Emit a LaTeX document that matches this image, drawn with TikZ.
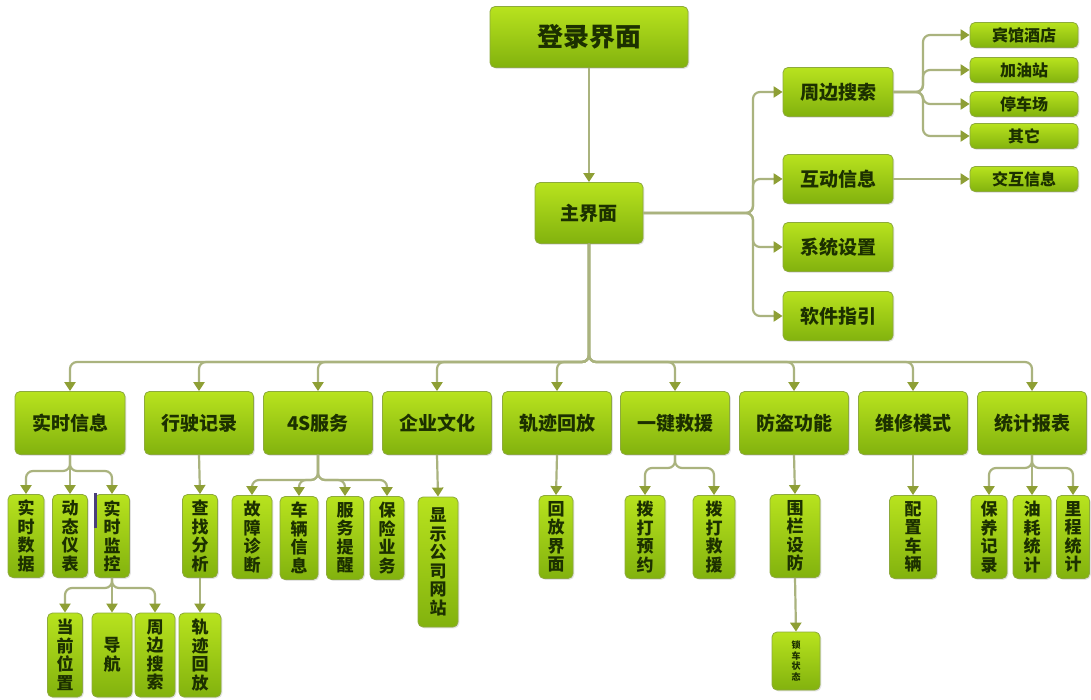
\documentclass[tikz,border=0pt]{standalone}
\usepackage{fontspec}
\newfontfamily\cjk{Noto Sans CJK SC}
\usetikzlibrary{arrows.meta,shadows}
\definecolor{linec}{HTML}{AAB37E}
\definecolor{tipc}{HTML}{8E9F35}
\definecolor{topc}{HTML}{B8E31E}
\definecolor{botc}{HTML}{82B20E}
\definecolor{bordc}{HTML}{8DAA3C}
\definecolor{txtc}{HTML}{1C3000}
\definecolor{markc}{HTML}{4A3F7A}
\tikzset{
  box/.style={rounded corners=5pt, draw=bordc, line width=0.8pt, top color=topc, bottom color=botc,
    text=txtc, inner sep=0pt, drop shadow={opacity=0.22,shadow xshift=1.3pt,shadow yshift=-1.3pt}},
  bigbox/.style={box, font=\cjk\bfseries\fontsize{26}{28}\selectfont, minimum width=198pt, minimum height=61pt},
  hbox/.style={box, font=\cjk\bfseries\fontsize{19}{21}\selectfont},
  topbox/.style={hbox, minimum width=109pt, minimum height=63pt},
  rbox/.style={hbox, minimum width=110pt, minimum height=49pt},
  leaf/.style={box, font=\cjk\bfseries\fontsize{16}{18}\selectfont, minimum width=108pt, minimum height=25pt},
  vbox/.style={box, font=\cjk\bfseries\fontsize{17}{18.5}\selectfont, align=center, minimum height=83pt},
  arr/.style={draw=linec, line width=2.2pt, rounded corners=7pt,
    -{Triangle[width=11pt,length=9pt,color=tipc]}},
}
\begin{document}
\begin{tikzpicture}[x=1pt,y=-1pt]
\useasboundingbox[fill=white] (0,0) rectangle (1091,700);
% top
\node[bigbox] (login) at (589,37) {登录界面};
\node[hbox, minimum width=108pt, minimum height=61pt] (main) at (589,213) {主界面};
% right column
\node[rbox] (zbss) at (838,92) {周边搜索};
\node[rbox] (hdxx) at (838,179) {互动信息};
\node[rbox] (xtsz) at (838,247) {系统设置};
\node[rbox] (rjzy) at (838,316) {软件指引};
\node[leaf] (bgjd) at (1024,35) {宾馆酒店};
\node[leaf] (jyz) at (1024,70) {加油站};
\node[leaf] (tcc) at (1024,104) {停车场};
\node[leaf] (qt) at (1024,136) {其它};
\node[leaf] (jhxx) at (1024,179) {交互信息};
% top row
\node[topbox, minimum width=110pt] (ssxx) at (70,423) {实时信息};
\node[topbox] (xsjl) at (199,423) {行驶记录};
\node[topbox] (fs) at (318,423) {4S服务};
\node[topbox] (qywh) at (437,423) {企业文化};
\node[topbox] (gjhf) at (557,423) {轨迹回放};
\node[topbox] (yjjy) at (675,423) {一键救援};
\node[topbox] (fdgn) at (794,423) {防盗功能};
\node[topbox] (wxms) at (913,423) {维修模式};
\node[topbox] (tjbb) at (1032,423) {统计报表};
% second row
\node[vbox, minimum width=36pt] (sssj) at (26,536) {实\\时\\数\\据};
\node[vbox, minimum width=35pt] (dtyb) at (70,536) {动\\态\\仪\\表};
\node[vbox, minimum width=35pt] (ssjk) at (112,536) {实\\时\\监\\控};
\fill[markc] (94,493) rectangle (96.5,528);
\node[vbox, minimum width=35pt] (czfx) at (200,536) {查\\找\\分\\析};
\node[vbox, minimum width=40pt] (gzzd) at (252,537) {故\\障\\诊\\断};
\node[vbox, minimum width=38pt] (clxx) at (299,538) {车\\辆\\信\\息};
\node[vbox, minimum width=37pt] (fwtx) at (345,538) {服\\务\\提\\醒};
\node[vbox, minimum width=34pt] (bxyw) at (387,538) {保\\险\\业\\务};
\node[vbox, minimum width=40pt, minimum height=130pt] (xsgs) at (438,562) {显\\示\\公\\司\\网\\站};
\node[vbox, minimum width=34pt] (hfjm) at (556,537) {回\\放\\界\\面};
\node[vbox, minimum width=40pt] (bdyy) at (645,537) {拨\\打\\预\\约};
\node[vbox, minimum width=42pt] (bdjy) at (714,537) {拨\\打\\救\\援};
\node[vbox, minimum width=50pt] (wlsf) at (795,536) {围\\栏\\设\\防};
\node[vbox, minimum width=47pt] (pzcl) at (913,537) {配\\置\\车\\辆};
\node[vbox, minimum width=36pt] (byjl) at (989,537) {保\\养\\记\\录};
\node[vbox, minimum width=38pt] (yhtj) at (1032,537) {油\\耗\\统\\计};
\node[vbox, minimum width=33pt] (lctj) at (1073,537) {里\\程\\统\\计};
% third row
\node[vbox, minimum width=35pt, minimum height=84pt] (dqwz) at (65,655) {当\\前\\位\\置};
\node[vbox, minimum width=40pt, minimum height=84pt] (dh) at (112,655) {导\\航};
\node[vbox, minimum width=40pt, minimum height=84pt] (zbss2) at (155,655) {周\\边\\搜\\索};
\node[vbox, minimum width=42pt, minimum height=84pt] (gjhf2) at (200,655) {轨\\迹\\回\\放};
\node[box, font=\cjk\bfseries\fontsize{9}{10.5}\selectfont, align=center, minimum width=48pt, minimum height=58pt] (scz) at (796,661) {锁\\车\\状\\态};
% junction coordinates
\coordinate (rj) at (753,213);
\coordinate (zj) at (923,92);
\coordinate (bj) at (589,362);
\coordinate (sj) at (70,471);
\coordinate (kj) at (112,588);
\coordinate (fj) at (318,480);
\coordinate (yj) at (675,468);
\coordinate (tj) at (1032,468);
% connectors
\draw[arr] (login.south) -- (main.north);
\foreach \t in {zbss,hdxx,xtsz,rjzy} \draw[arr] (main.east) -- (rj) |- (\t.west);
\foreach \t in {bgjd,jyz,tcc,qt} \draw[arr] (zbss.east) -- (zj) |- (\t.west);
\draw[arr] (hdxx.east) -- (jhxx.west);
\foreach \t in {ssxx,xsjl,fs,qywh,gjhf,yjjy,fdgn,wxms,tjbb} \draw[arr] (main.south) -- (bj) -| (\t.north);
\foreach \t in {sssj,dtyb,ssjk} \draw[arr] (ssxx.south) -- (sj) -| (\t.north);
\foreach \t in {dqwz,dh,zbss2} \draw[arr] (ssjk.south) -- (kj) -| (\t.north);
\draw[arr] (xsjl.south) -- (czfx.north);
\draw[arr] (czfx.south) -- (gjhf2.north);
\foreach \t in {gzzd,clxx,fwtx,bxyw} \draw[arr] (fs.south) -- (fj) -| (\t.north);
\draw[arr] (qywh.south) -- (xsgs.north);
\draw[arr] (gjhf.south) -- (hfjm.north);
\foreach \t in {bdyy,bdjy} \draw[arr] (yjjy.south) -- (yj) -| (\t.north);
\draw[arr] (fdgn.south) -- (wlsf.north);
\draw[arr] (wlsf.south) -- (scz.north);
\draw[arr] (wxms.south) -- (pzcl.north);
\foreach \t in {byjl,yhtj,lctj} \draw[arr] (tjbb.south) -- (tj) -| (\t.north);
\end{tikzpicture}
\end{document}
